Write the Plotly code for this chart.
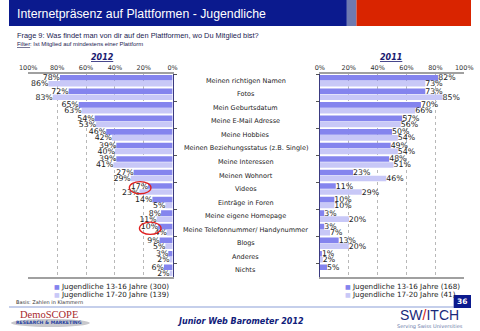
import plotly.graph_objects as go

categories = [
    "Meinen richtigen Namen", "Fotos", "Mein Geburtsdatum", "Meine E-Mail Adresse",
    "Meine Hobbies", "Meinen Beziehungsstatus (z.B. Single)", "Meine Interessen",
    "Meinen Wohnort", "Videos", "Einträge in Foren", "Meine eigene Homepage",
    "Meine Telefonnummer/ Handynummer", "Blogs", "Anderes", "Nichts",
]
y2012_13_16 = [78, 72, 65, 54, 46, 39, 39, 27, 17, 14, 8, 10, 9, 3, 6]
y2012_17_20 = [86, 83, 63, 53, 42, 40, 41, 29, 23, 5, 11, 4, 5, 2, 2]
y2011_13_16 = [82, 73, 70, 57, 50, 49, 48, 23, 11, 10, 3, 3, 13, 1, 5]
y2011_17_20 = [73, 85, 66, 56, 54, 54, 51, 46, 29, 10, 20, 7, 20, 2, None]
names_2012 = ["Jugendliche 13-16 Jahre (300)", "Jugendliche 17-20 Jahre (139)"]
names_2011 = ["Jugendliche 13-16 Jahre (168)", "Jugendliche 17-20 Jahre (41)"]
x_ticks = [0, 20, 40, 60, 80, 100]
highlight = ["Videos", "Meine Telefonnummer/ Handynummer"]

W, H = 480, 331
def px(x): return x / W
def py(y): return 1 - y / H

DARK = "#8484EE"
LIGHT = "#C8C8F7"
NAVY = "#0B1A8E"
FONT = "DejaVu Sans"
SANS = "Liberation Sans"

fig = go.Figure()

def add_bars(vals, name, color, xa, ya):
    fig.add_trace(go.Bar(
        y=categories, x=vals, name=name, orientation="h",
        marker=dict(color=color, line=dict(width=0)),
        xaxis=xa, yaxis=ya,
        text=[("%d%%" % v) if v is not None else "" for v in vals],
        textposition="outside", cliponaxis=False, constraintext="none",
        textfont=dict(size=7.8, color="#222", family=FONT),
        showlegend=False,
    ))

add_bars(y2012_13_16, names_2012[0], DARK, "x", "y")
add_bars(y2012_17_20, names_2012[1], LIGHT, "x", "y")
add_bars(y2011_13_16, names_2011[0], DARK, "x2", "y2")
add_bars(y2011_17_20, names_2011[1], LIGHT, "x2", "y2")

ydom = [py(277), py(74)]
axis_common = dict(
    showgrid=True, gridcolor="#b8b8b8", griddash="dot", gridwidth=1,
    tickvals=x_ticks, ticktext=["%d%%" % t for t in x_ticks],
    side="top", tickfont=dict(size=6.5, color="#333", family=FONT),
    showline=True, linecolor="#a0a0a0", linewidth=1.5, mirror=True,
    ticks="", zeroline=False, fixedrange=True,
)
fig.update_layout(
    width=W, height=H, margin=dict(l=0, r=0, t=0, b=0),
    paper_bgcolor="white", plot_bgcolor="white",
    barmode="group", bargap=0.12, bargroupgap=0.06,
    xaxis=dict(domain=[px(20), px(170)], range=[100, 0], anchor="y", **axis_common),
    xaxis2=dict(domain=[px(323), px(473)], range=[0, 100], anchor="y2", **axis_common),
    yaxis=dict(domain=ydom, type="category", categoryorder="array", categoryarray=categories,
               autorange="reversed", anchor="x", side="right", showticklabels=False,
               ticks="outside", tickson="boundaries", ticklen=3, tickcolor="#555",
               showline=True, linecolor="#3a3a80", linewidth=1, showgrid=False),
    yaxis2=dict(domain=ydom, type="category", categoryorder="array", categoryarray=categories,
                autorange="reversed", anchor="x2", side="left", showticklabels=False,
                ticks="outside", tickson="boundaries", ticklen=3, tickcolor="#555",
                showline=True, linecolor="#3a3a80", linewidth=1, showgrid=False),
    font=dict(family=FONT),
)

ann = []
shapes = []
# Header band
shapes.append(dict(type="rect", xref="paper", yref="paper", x0=0, x1=px(351), y0=py(26), y1=1,
                   fillcolor=NAVY, line=dict(width=0), layer="below"))
shapes.append(dict(type="rect", xref="paper", yref="paper", x0=px(351), x1=px(361), y0=py(26), y1=1,
                   fillcolor="#6E7AB0", line=dict(width=0), layer="below"))
shapes.append(dict(type="rect", xref="paper", yref="paper", x0=px(361), x1=1, y0=py(26), y1=1,
                   fillcolor="#D92400", line=dict(width=0), layer="below"))
ann.append(dict(text="Internetpräsenz auf Plattformen - Jugendliche", x=px(6), y=py(14),
                xref="paper", yref="paper", xanchor="left", yanchor="middle", showarrow=False,
                font=dict(size=12.3, color="white", family=SANS)))
ann.append(dict(text="Frage 9: Was findet man von dir auf den Plattformen, wo Du Mitglied bist?",
                x=px(6), y=py(35), xref="paper", yref="paper", xanchor="left", yanchor="middle",
                showarrow=False, font=dict(size=7.4, color="#1a1a50", family=SANS)))
ann.append(dict(text="<u>Filter</u>: Ist Mitglied auf mindestens einer Plattform",
                x=px(6), y=py(44), xref="paper", yref="paper", xanchor="left", yanchor="middle",
                showarrow=False, font=dict(size=5.9, color="#1a1a50", family=SANS)))
for lbl, xc in (("2012", 97), ("2011", 397)):
    ann.append(dict(text="<b><i><u>%s</u></i></b>" % lbl, x=px(xc), y=py(57), xref="paper", yref="paper",
                    xanchor="center", yanchor="middle", showarrow=False,
                    font=dict(size=8, color="#1a1a70", family=FONT)))
# Category labels
for c in categories:
    ann.append(dict(text=c, x=px(246), y=c, xref="paper", yref="y", xanchor="center",
                    yanchor="middle", showarrow=False, font=dict(size=6.5, color="#222", family=FONT)))
# Highlight circles around selected labels (2012, 13-16)
for c in highlight:
    i = categories.index(c)
    v = y2012_13_16[i]
    shapes.append(dict(type="circle", xref="x", yref="y", x0=v - 2, x1=v + 13,
                       y0=i - 0.55, y1=i + 0.35, line=dict(color="#E02020", width=1.3)))
# Legends
for names, x0 in ((names_2012, 45), (names_2011, 347)):
    for k, (nm, col) in enumerate(zip(names, (DARK, LIGHT))):
        ann.append(dict(text="<span style='color:%s;font-size:6px'>■</span> %s" % (col, nm),
                        x=px(x0), y=py(286 + 8.5 * k),
                        xref="paper", yref="paper", xanchor="left", yanchor="middle", showarrow=False,
                        font=dict(size=7.2, color="#222", family=FONT)))
ann.append(dict(text="Basis: Zahlen in Klammern", x=px(5), y=py(302), xref="paper", yref="paper",
                xanchor="left", yanchor="middle", showarrow=False,
                font=dict(size=5, color="#333", family=FONT)))
# Footer
shapes.append(dict(type="line", xref="paper", yref="paper", x0=0, x1=px(462), y0=py(307), y1=py(307),
                   line=dict(color="#8CA0D8", width=1.2)))
shapes.append(dict(type="rect", xref="paper", yref="paper", x0=px(462), x1=1, y0=py(308), y1=py(295),
                   fillcolor=NAVY, line=dict(width=0)))
ann.append(dict(text="<b>36</b>", x=px(471), y=py(301.5), xref="paper", yref="paper", xanchor="center",
                yanchor="middle", showarrow=False, font=dict(size=7.5, color="white", family=FONT)))
shapes.append(dict(type="circle", xref="paper", yref="paper", x0=px(2), x1=px(84), y0=py(327), y1=py(319),
                   fillcolor="#C8C8CC", line=dict(width=0)))
ann.append(dict(text="DemoSCOPE", x=px(42), y=py(314), xref="paper", yref="paper", xanchor="center",
                yanchor="middle", showarrow=False, font=dict(size=10.5, color="#A8282C", family="Liberation Serif")))
ann.append(dict(text="<b>RESEARCH &amp; MARKETING</b>", x=px(42), y=py(322.5), xref="paper", yref="paper",
                xanchor="center", yanchor="middle", showarrow=False,
                font=dict(size=4.6, color="#1F3FA0", family=FONT)))
ann.append(dict(text="<b><i>Junior Web Barometer 2012</i></b>", x=px(240), y=py(321), xref="paper", yref="paper",
                xanchor="center", yanchor="middle", showarrow=False,
                font=dict(size=8, color="#10207A", family=FONT)))
ann.append(dict(text="SW<span style='color:#D02020'>/</span>ITCH", x=px(437), y=py(315), xref="paper", yref="paper",
                xanchor="center", yanchor="middle", showarrow=False,
                font=dict(size=14, color="#1A2A7A", family=SANS)))
ann.append(dict(text="Serving Swiss Universities", x=px(437), y=py(326), xref="paper", yref="paper",
                xanchor="center", yanchor="middle", showarrow=False,
                font=dict(size=5, color="#6A7AA8", family=FONT)))

fig.update_layout(annotations=ann, shapes=shapes)
fig.write_html("out.html")
